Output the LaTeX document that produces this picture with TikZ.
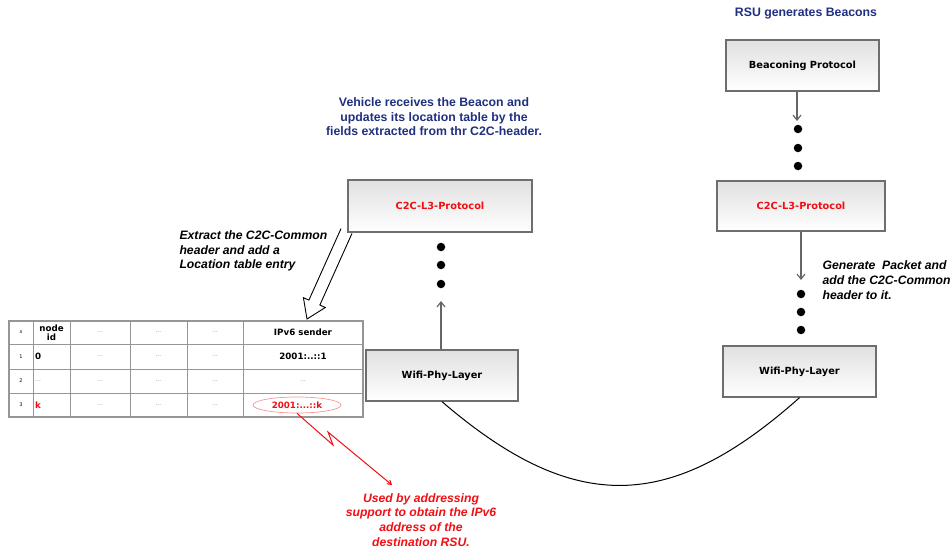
\documentclass[tikz,border=0pt]{standalone}
\usepackage{fontspec}
\setmainfont{Liberation Sans}
\newfontfamily\vfont{DejaVu Sans}
\usetikzlibrary{arrows.meta,calc,shapes.geometric}
\definecolor{navy}{RGB}{31,48,128}
\definecolor{hot}{RGB}{240,16,20}
\definecolor{frame}{RGB}{110,110,110}
\definecolor{gridline}{RGB}{150,150,150}
\definecolor{dotsgray}{RGB}{150,150,150}

\begin{document}
\begin{tikzpicture}[x=1pt,y=-1pt,
  % the y axis points down here, so the shading's "top" is drawn at the bottom
  layer/.style={draw=frame, line width=1.3pt, top color=black!12, bottom color=white,
    minimum width=#1, minimum height=51pt, inner sep=0pt,
    font=\vfont\bfseries\fontsize{9.8}{11}\selectfont},
  dot/.style={circle, fill=black, inner sep=0pt, minimum size=8.5pt},
  grayarrow/.style={draw=black!60, line width=1.2pt, -{Straight Barb[length=5pt,width=8pt]}},
  title/.style={text=navy, font=\bfseries\fontsize{12.3}{14.5}\selectfont, align=center},
  note/.style={font=\bfseries\itshape\fontsize{12.2}{14.8}\selectfont, align=left, anchor=west},
  rownum/.style={font=\vfont\fontsize{5}{6}\selectfont},
  cellhead/.style={font=\vfont\bfseries\fontsize{8.7}{9.5}\selectfont, align=center},
  cellval/.style={font=\vfont\bfseries\fontsize{8.7}{10}\selectfont},
  gap/.style={font=\vfont\fontsize{6}{7}\selectfont, text=dotsgray},
  redline/.style={draw=hot, line width=1pt, -{Straight Barb[length=4pt,width=5pt]}}
]
\useasboundingbox (0,0) rectangle (952,552);

% hollow arrow from the vehicle's C2C layer to the location table
\coordinate (hS) at (346.5,231);
\coordinate (hT) at (307,319);
\coordinate (hH) at ($(hT)!18pt!(hS)$);
\filldraw[fill=white, draw=black, line width=0.9pt, line join=miter]
  ($(hS)!6pt!90:(hT)$) -- ($(hH)!6pt!90:(hT)$) -- ($(hH)!12pt!90:(hT)$) -- (hT)
  -- ($(hH)!12pt!-90:(hT)$) -- ($(hH)!6pt!-90:(hT)$) -- ($(hS)!6pt!-90:(hT)$);

% protocol stacks
\node[layer=153pt] (beacon) at (802.5,65.5) {Beaconing Protocol};
\node[layer=168pt, minimum height=50pt, text=hot] (c2cR) at (801,206) {C2C-L3-Protocol};
\node[layer=153pt] (wR) at (799.5,371.5) {Wifi-Phy-Layer};
\node[layer=184pt, minimum height=52pt, text=hot] (c2cL) at (440,206) {C2C-L3-Protocol};
\node[layer=152pt] (wL) at (442,375.5) {Wifi-Phy-Layer};

% titles
\node[title] (rsuT) at (806,14) {RSU generates Beacons};
\node[title] (vehT) at (434,117) {Vehicle receives the Beacon and\\updates its location table by the\\fields extracted from thr C2C-header.};

% notes
\node[note] (extract) at (176,251) {Extract the C2C-Common\\header and add a\\Location table entry};
\node[note] (gen) at (819,280) {Generate\ \ Packet and\\add the C2C-Common\\header to it.};
\node[note, anchor=center, align=center, text=hot] (used) at (421,520)
  {Used by addressing\\support to obtain the IPv6\\address of the\\destination RSU.};

% dots between layers
\node[dot] (r1) at (798,129) {};
\node[dot] (r2) at (798,148) {};
\node[dot] (r3) at (798,166) {};
\node[dot] (r4) at (801,294) {};
\node[dot] (r5) at (801,312) {};
\node[dot] (r6) at (801,330) {};
\node[dot] (l1) at (441,247) {};
\node[dot] (l2) at (441,265) {};
\node[dot] (l3) at (441,284) {};

% vertical arrows
\coordinate (bEnd) at (797,121);
\draw[grayarrow] (beacon.south -| bEnd) -- (bEnd);
\coordinate (cEnd) at (801,280);
\draw[grayarrow] (c2cR.south -| cEnd) -- (cEnd);
\coordinate (wEnd) at (441,301);
\draw[grayarrow] (wL.north -| wEnd) -- (wEnd);

% radio link between the two physical layers
\draw[line width=1pt] (wL.south) .. controls (575,516) and (671,512) .. (wR.south);

% location table
\draw[gridline, line width=0.9pt]
  (9,344) -- (363,344) (9,369) -- (363,369) (9,393) -- (363,393)
  (33,321) -- (33,417) (70,321) -- (70,417) (130,321) -- (130,417)
  (187,321) -- (187,417) (243,321) -- (243,417);
\draw[gridline, line width=1.5pt] (9,321) rectangle (363,417);

\node[rownum] (h0) at (21,332.5) {\itshape x};
\node[cellhead] (h1) at (51.5,332.5) {node\\id};
\node[gap] (h2) at (100,332.5) {...};
\node[gap] (h3) at (158.5,332.5) {...};
\node[gap] (h4) at (215,332.5) {...};
\node[cellhead] (h5) at (303,332.5) {IPv6 sender};

\node[rownum] (a0) at (21,356.5) {1};
\node[cellval, anchor=west, inner sep=0pt] (a1) at (35,356.5) {0};
\node[gap] (a2) at (100,356.5) {...};
\node[gap] (a3) at (158.5,356.5) {...};
\node[gap] (a4) at (215,356.5) {...};
\node[cellval] (a5) at (303,356.5) {2001:..::1};

\node[rownum] (b0) at (21,381) {2};
\node[gap, anchor=west, inner sep=0pt] (b1) at (35,381) {...};
\node[gap] (b2) at (100,381) {...};
\node[gap] (b3) at (158.5,381) {...};
\node[gap] (b4) at (215,381) {...};
\node[gap] (b5) at (303,381) {...};

\node[rownum] (c0) at (21,405) {3};
\node[cellval, anchor=west, inner sep=0pt, text=hot] (c1) at (35,405) {k};
\node[gap] (c2) at (100,405) {...};
\node[gap] (c3) at (158.5,405) {...};
\node[gap] (c4) at (215,405) {...};
\node[cellval, text=hot, ellipse, draw=hot!45, line width=0.7pt, inner sep=0pt,
  minimum width=88pt, minimum height=16pt] (ek) at (297,405) {2001:...::k};

% lightning pointer to the explanation
\coordinate (z1) at (333,445);
\coordinate (z2) at (328,432);
\coordinate (zEnd) at (392,485);
\draw[redline] (ek.south) -- (z1) -- (z2) -- (zEnd);

\end{tikzpicture}
\end{document}
